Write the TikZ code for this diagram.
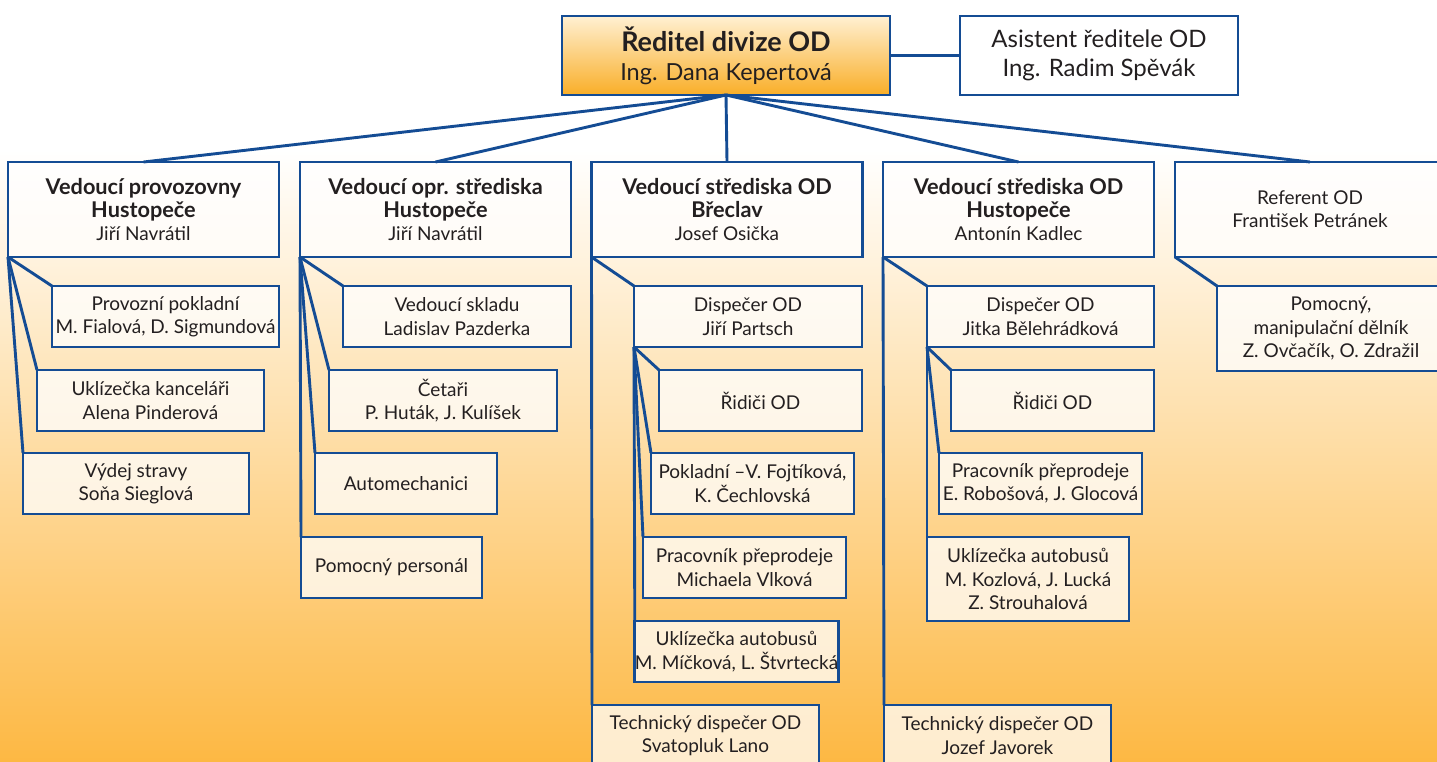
\documentclass[tikz,border=0pt]{standalone}
\usepackage{fontspec}
\setmainfont{Lato}
\definecolor{bord}{RGB}{20,76,148}
\definecolor{txt}{RGB}{35,31,32}
\definecolor{bgorange}{RGB}{253,184,67}
\definecolor{dirtop}{RGB}{255,240,210}
\definecolor{dirbot}{RGB}{249,174,40}
\newcommand\hb[1]{{\fontsize{21.7}{23.3}\selectfont\bfseries #1}}
\newcommand\dirb[1]{{\fontsize{27}{29}\selectfont\bfseries #1}}
\tikzset{
  box/.style={draw=bord, line width=2.9pt, rectangle, inner sep=0pt, outer sep=0pt,
    fill=white, fill opacity=0.74, text opacity=1, text=txt, align=center,
    font=\fontsize{19}{23.3}\selectfont},
  lvltwo/.style={box, minimum width=271pt, minimum height=95pt},
  child/.style={box, minimum height=61pt},
  dirbox/.style={draw=bord, line width=2.9pt, rectangle, inner sep=0pt, outer sep=0pt,
    top color=dirtop, bottom color=dirbot, text=txt, align=center,
    font=\fontsize{23.5}{29}\selectfont, minimum width=328pt, minimum height=79pt},
  asbox/.style={box, font=\fontsize{24}{29}\selectfont, minimum width=278pt, minimum height=79pt},
  conn/.style={draw=bord, line width=2.9pt}
}
\begin{document}
\begin{tikzpicture}[x=1pt,y=-1pt]
\clip (0,0) rectangle (1437,762);
\fill[white] (0,0) rectangle (1437,150);
\shade[top color=white, bottom color=bgorange] (0,150) rectangle (1437,762);

% top level
\node[dirbox] (dir) at (726,55.5) {\dirb{Ředitel divize OD}\\Ing. Dana Kepertová};
\node[asbox] (asis) at (1099,55.5) {Asistent ředitele OD\\Ing. Radim Spěvák};

% level 2
\node[lvltwo] (b1) at (143.5,209.5) {\hb{Vedoucí provozovny}\\\hb{Hustopeče}\\Jiří Navrátil};
\node[lvltwo] (b2) at (435.5,209.5) {\hb{Vedoucí opr. střediska}\\\hb{Hustopeče}\\Jiří Navrátil};
\node[lvltwo] (b3) at (727,209.5) {\hb{Vedoucí střediska OD}\\\hb{Břeclav}\\Josef Osička};
\node[lvltwo] (b4) at (1018.5,209.5) {\hb{Vedoucí střediska OD}\\\hb{Hustopeče}\\Antonín Kadlec};
\node[lvltwo, minimum width=270pt] (b5) at (1310,209.5) {Referent OD\\František Petránek};

% branch 1
\node[child, minimum width=227pt] (c11) at (165.5,316.5) {Provozní pokladní\\M. Fialová, D. Sigmundová};
\node[child, minimum width=227pt] (c12) at (150.5,400.5) {Uklízečka kanceláři\\Alena Pinderová};
\node[child, minimum width=226pt] (c13) at (136,483.5) {Výdej stravy\\Soňa Sieglová};

% branch 2
\node[child, minimum width=228pt] (c21) at (457,316.5) {Vedoucí skladu\\Ladislav Pazderka};
\node[child, minimum width=228pt] (c22) at (443,400.5) {Četaři\\P. Huták, J. Kulíšek};
\node[child, minimum width=182pt] (c23) at (406,483.5) {Automechanici};
\node[child, minimum width=181pt] (c24) at (391.5,567.5) {Pomocný personál};

% branch 3
\node[child, minimum width=228pt] (c31) at (748,316.5) {Dispečer OD\\Jiří Partsch};
\node[child, minimum width=203pt] (c32) at (760.5,400.5) {Řidiči OD};
\node[child, minimum width=203pt] (c33) at (752.5,483.5) {Pokladní –V. Fojtíková,\\K. Čechlovská};
\node[child, minimum width=203pt] (c34) at (744.5,567.5) {Pracovník přeprodeje\\Michaela Vlková};
\node[child, minimum width=203pt] (c35) at (736.5,651.5) {Uklízečka autobusů\\M. Míčková, L. Štvrtecká};
\node[child, minimum width=227pt] (c36) at (705.5,735.5) {Technický dispečer OD\\Svatopluk Lano};

% branch 4
\node[child, minimum width=227pt] (c41) at (1040.5,316.5) {Dispečer OD\\Jitka Bělehrádková};
\node[child, minimum width=203pt] (c42) at (1052.5,400.5) {Řidiči OD};
\node[child, minimum width=203pt] (c43) at (1040.5,483.5) {Pracovník přeprodeje\\E. Robošová, J. Glocová};
\node[child, minimum width=202pt, minimum height=84pt] (c44) at (1028,579) {Uklízečka autobusů\\M. Kozlová, J. Lucká\\Z. Strouhalová};
\node[child, minimum width=227pt] (c46) at (997.5,735.5) {Technický dispečer OD\\Jozef Javorek};

% branch 5
\node[child, minimum width=228pt, minimum height=85pt] (c51) at (1331,328.5) {Pomocný,\\manipulační dělník\\Z. Ovčačík, O. Zdražil};

% connectors
\draw[conn] (dir.east) -- (asis.west);
\foreach \b in {b1,b2,b3,b4,b5} \draw[conn] (dir.south) -- (\b.north);
\foreach \c in {c11,c12,c13} \draw[conn] (b1.south west) -- (\c.north west);
\foreach \c in {c21,c22,c23,c24} \draw[conn] (b2.south west) -- (\c.north west);
\foreach \c in {c31,c36} \draw[conn] (b3.south west) -- (\c.north west);
\foreach \c in {c32,c33,c34,c35} \draw[conn] (c31.south west) -- (\c.north west);
\foreach \c in {c41,c46} \draw[conn] (b4.south west) -- (\c.north west);
\foreach \c in {c42,c43,c44} \draw[conn] (c41.south west) -- (\c.north west);
\draw[conn] (b5.south west) -- (c51.north west);
\end{tikzpicture}
\end{document}
